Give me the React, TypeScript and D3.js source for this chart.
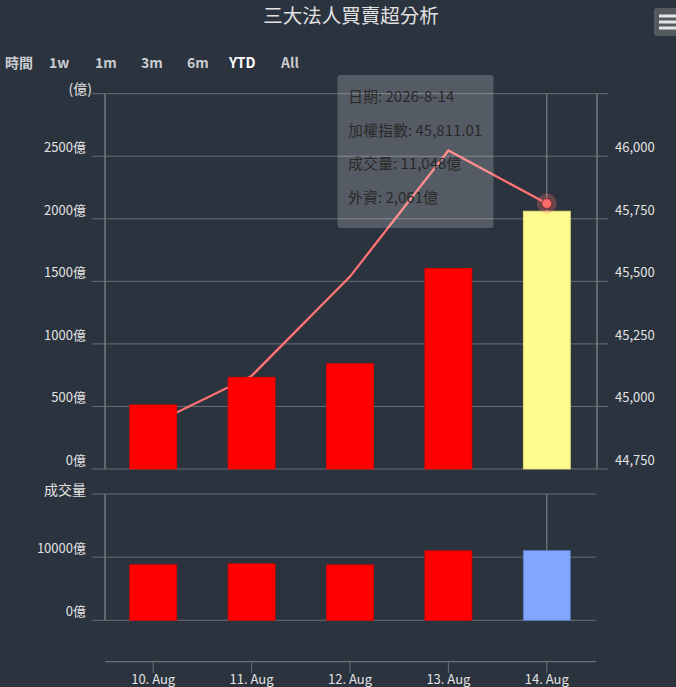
import React from "react";
import * as d3 from "d3";

const categories = ["10. Aug", "11. Aug", "12. Aug", "13. Aug", "14. Aug"];
const foreignNet = [512, 733, 842, 1602, 2061];
const taiex = [44930, 45122, 45519, 46023, 45811.01];
const volume = [8800, 8950, 8780, 11000, 11048];
const leftTicks = [0, 500, 1000, 1500, 2000, 2500];
const rightTicks = [44750, 45000, 45250, 45500, 45750, 46000];
const volTicks = [0, 10000];
const rangeButtons = ["1w", "1m", "3m", "6m", "YTD", "All"];
const selectedRange = "YTD";
const tooltipDate = "2026-8-14";

const W = 676;
const H = 687;
const FONT = "'Noto Sans CJK TC', 'Noto Sans', sans-serif";
const BG = "#2b333e";
const GRID = "#6b6e72";
const TXT = "#e2e2e2";

export default function App() {
  const x = d3.scaleBand<string>().domain(categories).range([104, 596]).paddingInner(0).paddingOuter(0);
  const bw = 47;
  const cx = (c: string) => (x(c) as number) + x.bandwidth() / 2;

  const yL = d3.scaleLinear().domain([0, 3000]).range([469, 93.7]);
  const yR = d3.scaleLinear().domain([44750, 46250]).range([469, 93.7]);
  const yV = d3.scaleLinear().domain([0, 20000]).range([620.3, 494]);

  const line = d3
    .line<number>()
    .x((_, i) => cx(categories[i]))
    .y((d) => yR(d));

  const last = categories.length - 1;
  const hx = cx(categories[last]);
  const fmt = d3.format(",");
  const tipLines = [
    `日期: ${tooltipDate}`,
    `加權指數: ${d3.format(",.2f")(taiex[last])}`,
    `成交量: ${fmt(volume[last])}億`,
    `外資: ${fmt(foreignNet[last])}億`,
  ];

  const btnX = [49, 95, 141, 187, 229, 281];

  return (
    <div style={{ position: "fixed", left: 0, top: 0, width: W, height: H, background: BG }}>
      <svg width={W} height={H} style={{ display: "block", fontFamily: FONT }}>
        <rect x={0} y={0} width={W} height={H} fill={BG} />
        {/* title */}
        <text x={351} y={23} textAnchor="middle" fill={TXT} fontSize={19.5}>
          三大法人買賣超分析
        </text>
        {/* menu button */}
        <rect x={654} y={8} width={30} height={28} rx={3} fill="#555a61" />
        {[16, 22, 28].map((yy) => (
          <line key={yy} x1={659} x2={680} y1={yy} y2={yy} stroke="#e6e6e6" strokeWidth={3} />
        ))}
        {/* range selector */}
        <text x={5} y={68} fill="#c9ccd0" fontSize={14} fontWeight="bold">
          時間
        </text>
        {rangeButtons.map((b, i) => (
          <text
            key={b}
            x={btnX[i]}
            y={68}
            fill={b === selectedRange ? "#ffffff" : "#c9ccd0"}
            fontSize={14}
            fontWeight="bold"
          >
            {b}
          </text>
        ))}

        {/* top chart gridlines */}
        {[...leftTicks, 3000].map((t) => (
          <line key={"gl" + t} x1={92} x2={608} y1={yL(t)} y2={yL(t)} stroke={GRID} strokeWidth={1} />
        ))}
        {leftTicks.map((t) => (
          <text key={"ll" + t} x={86} y={yL(t) - 4} textAnchor="end" fill={TXT} fontSize={13}>
            {t}億
          </text>
        ))}
        <text x={92} y={94} textAnchor="end" fill={TXT} fontSize={14}>
          (億)
        </text>
        {rightTicks.map((t) => (
          <text key={"rl" + t} x={615} y={yR(t) - 4} textAnchor="start" fill={TXT} fontSize={13}>
            {d3.format(",")(t)}
          </text>
        ))}
        <line x1={105} x2={105} y1={93.7} y2={469} stroke="#77797c" strokeWidth={1.5} />
        <line x1={597} x2={597} y1={93.7} y2={469} stroke="#77797c" strokeWidth={1.5} />

        {/* crosshair top */}
        <line x1={hx} x2={hx} y1={93.7} y2={469} stroke="#8e8f91" strokeWidth={1} />

        {/* index line (behind bars) */}
        <path d={line(taiex) || ""} fill="none" stroke="#ff7373" strokeWidth={2.3} />

        {/* top bars */}
        {foreignNet.map((v, i) => (
          <rect
            key={"b" + i}
            x={cx(categories[i]) - bw / 2}
            y={yL(v)}
            width={bw}
            height={yL(0) - yL(v)}
            fill={i === last ? "#fffb8f" : "#ff0000"}
            stroke={i === last ? "#e8e27a" : "#e00000"}
            strokeWidth={0.8}
          />
        ))}

        {/* hover marker */}
        <circle cx={hx} cy={yR(taiex[last])} r={10} fill="rgba(255,117,117,0.28)" />
        <circle cx={hx} cy={yR(taiex[last])} r={5} fill="#ff6b6b" stroke="#7a2a2a" strokeWidth={1} />

        {/* bottom chart */}
        {[...volTicks, 20000].map((t) => (
          <line key={"vg" + t} x1={92} x2={596} y1={yV(t)} y2={yV(t)} stroke={GRID} strokeWidth={1} />
        ))}
        {volTicks.map((t) => (
          <text key={"vl" + t} x={86} y={yV(t) - 4} textAnchor="end" fill={TXT} fontSize={13}>
            {t}億
          </text>
        ))}
        <text x={86} y={495} textAnchor="end" fill={TXT} fontSize={14}>
          成交量
        </text>
        <line x1={105} x2={105} y1={494} y2={620.3} stroke="#77797c" strokeWidth={1.5} />
        <line x1={hx} x2={hx} y1={494} y2={620} stroke="#8e8f91" strokeWidth={1} />
        {volume.map((v, i) => (
          <rect
            key={"v" + i}
            x={cx(categories[i]) - bw / 2}
            y={yV(v)}
            width={bw}
            height={yV(0) - yV(v)}
            fill={i === last ? "#80a6ff" : "#ff0000"}
            stroke={i === last ? "#5b7cc4" : "#d00000"}
            strokeWidth={0.8}
          />
        ))}

        {/* x axis */}
        <line x1={105} x2={596} y1={661.7} y2={661.7} stroke={GRID} strokeWidth={1.2} />
        {categories.map((c) => (
          <g key={"xt" + c}>
            <line x1={cx(c)} x2={cx(c)} y1={661.7} y2={673} stroke={GRID} strokeWidth={1} />
            <text x={cx(c)} y={684} textAnchor="middle" fill={TXT} fontSize={13}>
              {c}
            </text>
          </g>
        ))}

        {/* tooltip */}
        <rect x={337.5} y={75} width={156} height={153} rx={3} fill="rgba(255,255,255,0.2)" />
        {tipLines.map((t, i) => (
          <text key={"tt" + i} x={348} y={102 + i * 33.6} fill="#2a2a2a" fontSize={15}>
            {t}
          </text>
        ))}
      </svg>
    </div>
  );
}
